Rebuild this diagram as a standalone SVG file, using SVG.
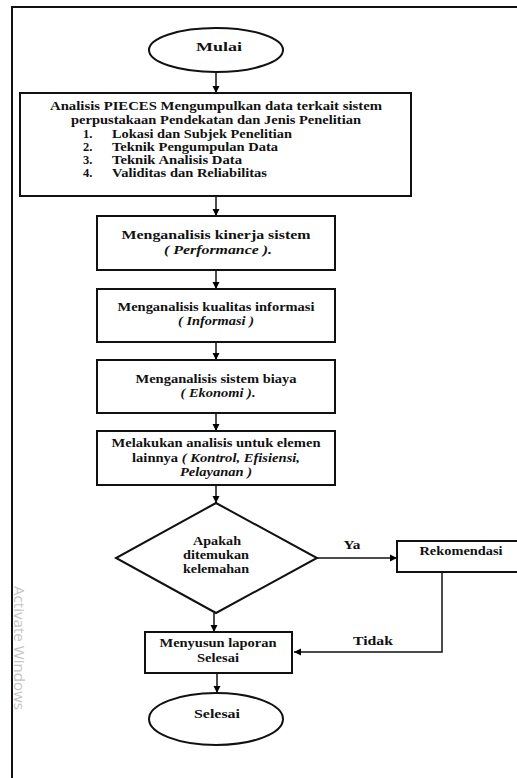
<svg xmlns="http://www.w3.org/2000/svg" width="517" height="778" viewBox="0 0 517 778">
<defs>
<marker id="ah" markerWidth="8" markerHeight="8" refX="7" refY="4" orient="auto" markerUnits="userSpaceOnUse">
<path d="M0,0.5 L7,4 L0,7.5 Z" fill="#000"/>
</marker>
<style>
.shape{fill:#fff;stroke:#111;stroke-width:2}
.t{font-family:"Liberation Serif","Times New Roman",serif;font-weight:bold;font-size:13px;fill:#111;text-anchor:middle}
.l{font-family:"Liberation Serif","Times New Roman",serif;font-weight:bold;font-size:12.5px;fill:#111}
.i{font-style:italic}
.c{fill:none;stroke:#111;stroke-width:1.5;marker-end:url(#ah)}
.w{font-family:"Open Sans","DejaVu Sans",sans-serif;font-size:14px;fill:#c4c4c4}
</style>
</defs>
<rect width="517" height="778" fill="#fff"/>
<path d="M12,778 V7 H517" fill="none" stroke="#111" stroke-width="2"/>
<text class="w" transform="translate(14,586) rotate(90)" textLength="124" lengthAdjust="spacingAndGlyphs">Activate Windows</text>

<g id="connectors">
<line class="c" x1="216" y1="72" x2="216" y2="93"/>
<line class="c" x1="216" y1="196" x2="216" y2="216"/>
<line class="c" x1="216" y1="270" x2="216" y2="289"/>
<line class="c" x1="216" y1="342" x2="216" y2="360"/>
<line class="c" x1="216" y1="413" x2="216" y2="431"/>
<line class="c" x1="216" y1="485" x2="216" y2="503"/>
<line class="c" x1="214" y1="613" x2="214" y2="632"/>
<line class="c" x1="217" y1="673" x2="217" y2="693"/>
<line class="c" x1="317" y1="558" x2="397" y2="558"/>
<polyline class="c" points="442,572 442,652 294,652"/>
<text class="t" x="352" y="549" textLength="17" lengthAdjust="spacingAndGlyphs">Ya</text>
<text class="t" x="373" y="645" textLength="40" lengthAdjust="spacingAndGlyphs">Tidak</text>
</g>

<g id="mulai">
<ellipse class="shape" cx="216" cy="50" rx="67" ry="22"/>
<text class="t" x="219" y="51" textLength="46" lengthAdjust="spacingAndGlyphs">Mulai</text>
</g>

<g id="analisis">
<rect class="shape" x="20" y="93" width="391" height="103"/>
<text class="t" font-size="12.5" x="216" y="110" textLength="332" lengthAdjust="spacingAndGlyphs">Analisis PIECES Mengumpulkan data terkait sistem</text>
<text class="t" font-size="12.5" x="216" y="124" textLength="290" lengthAdjust="spacingAndGlyphs">perpustakaan Pendekatan dan Jenis Penelitian</text>
<text class="l" x="83" y="138">1.</text><text class="l" x="112" y="138" textLength="180" lengthAdjust="spacingAndGlyphs">Lokasi dan Subjek Penelitian</text>
<text class="l" x="83" y="151">2.</text><text class="l" x="112" y="151" textLength="166" lengthAdjust="spacingAndGlyphs">Teknik Pengumpulan Data</text>
<text class="l" x="83" y="164">3.</text><text class="l" x="112" y="164" textLength="130" lengthAdjust="spacingAndGlyphs">Teknik Analisis Data</text>
<text class="l" x="83" y="177">4.</text><text class="l" x="112" y="177" textLength="155" lengthAdjust="spacingAndGlyphs">Validitas dan Reliabilitas</text>
</g>

<g id="performance">
<rect class="shape" x="97" y="216" width="238" height="54"/>
<text class="t" x="216" y="239" textLength="189" lengthAdjust="spacingAndGlyphs">Menganalisis kinerja sistem</text>
<text class="t i" x="218" y="254" textLength="108" lengthAdjust="spacingAndGlyphs">( Performance ).</text>
</g>

<g id="informasi">
<rect class="shape" x="97" y="289" width="238" height="53"/>
<text class="t" x="216" y="311" textLength="197" lengthAdjust="spacingAndGlyphs">Menganalisis kualitas informasi</text>
<text class="t i" x="216" y="325" textLength="76" lengthAdjust="spacingAndGlyphs">( Informasi )</text>
</g>

<g id="ekonomi">
<rect class="shape" x="97" y="360" width="238" height="53"/>
<text class="t" x="216" y="383" textLength="161" lengthAdjust="spacingAndGlyphs">Menganalisis sistem biaya</text>
<text class="t i" x="218" y="397" textLength="75" lengthAdjust="spacingAndGlyphs">( Ekonomi ).</text>
</g>

<g id="elemen">
<rect class="shape" x="97" y="431" width="238" height="54"/>
<text class="t" x="216" y="447" textLength="209" lengthAdjust="spacingAndGlyphs">Melakukan analisis untuk elemen</text>
<text class="t" x="216" y="462" textLength="168" lengthAdjust="spacingAndGlyphs">lainnya <tspan class="i">( Kontrol, Efisiensi,</tspan></text>
<text class="t i" x="216" y="476" textLength="72" lengthAdjust="spacingAndGlyphs">Pelayanan )</text>
</g>

<g id="keputusan">
<polygon class="shape" points="216,503 317,558 216,613 116,558"/>
<text class="t" x="217" y="545" textLength="48" lengthAdjust="spacingAndGlyphs">Apakah</text>
<text class="t" x="216" y="559" textLength="66" lengthAdjust="spacingAndGlyphs">ditemukan</text>
<text class="t" x="216" y="573" textLength="66" lengthAdjust="spacingAndGlyphs">kelemahan</text>
</g>

<g id="rekomendasi">
<rect class="shape" x="397" y="541" width="140" height="31"/>
<text class="t" x="461" y="555" textLength="83" lengthAdjust="spacingAndGlyphs">Rekomendasi</text>
</g>

<g id="laporan">
<rect class="shape" x="145" y="632" width="147" height="41"/>
<text class="t" x="218" y="647" textLength="117" lengthAdjust="spacingAndGlyphs">Menyusun laporan</text>
<text class="t" x="218" y="662" textLength="42" lengthAdjust="spacingAndGlyphs">Selesai</text>
</g>

<g id="selesai">
<ellipse class="shape" cx="216" cy="719" rx="67" ry="26"/>
<text class="t" x="217" y="718" textLength="46" lengthAdjust="spacingAndGlyphs">Selesai</text>
</g>
</svg>
